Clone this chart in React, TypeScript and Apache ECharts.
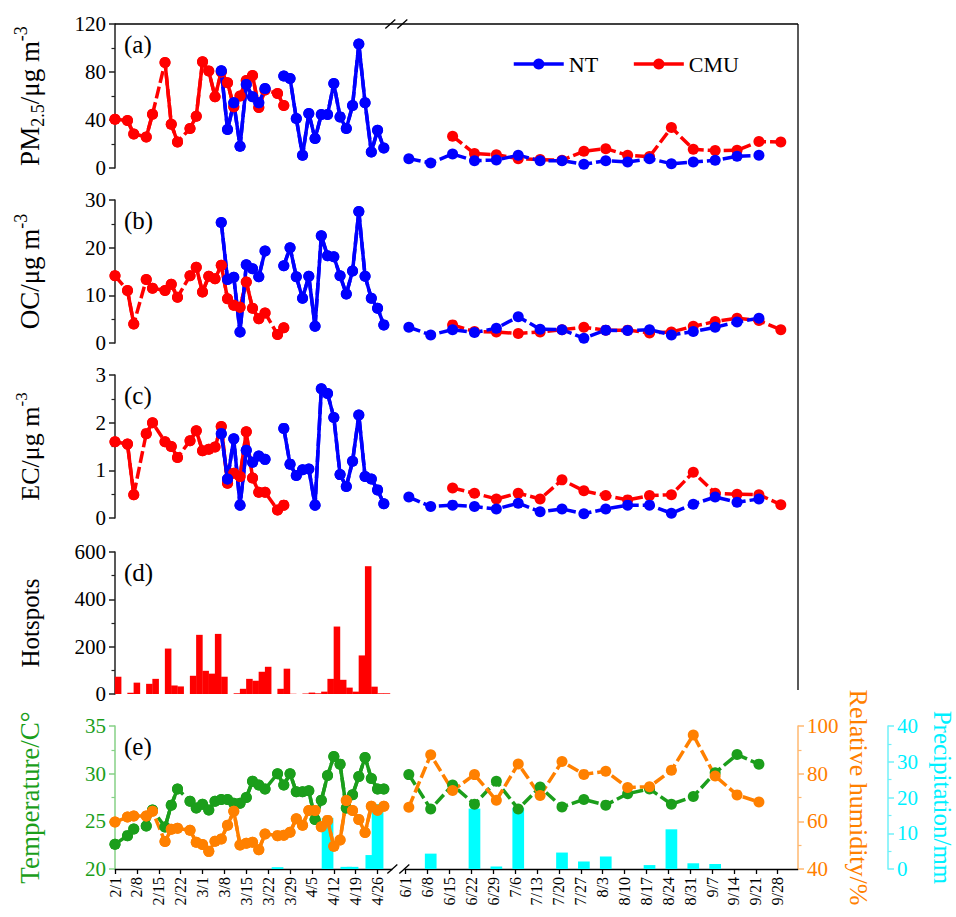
import React, { useEffect, useRef } from 'react';
import * as echarts from 'echarts';

const n = null;

// ---------- sampling dates ----------
const firstDates: string[] = [
  '2/1', '2/3', '2/5', '2/7', '2/9', '2/11', '2/13', '2/15', '2/17', '2/19', '2/21', '2/23', '2/25', '2/27',
  '3/1', '3/3', '3/5', '3/7', '3/9', '3/11', '3/13', '3/15', '3/17', '3/19', '3/21', '3/23', '3/25', '3/27', '3/29', '3/31',
  '4/2', '4/4', '4/6', '4/8', '4/10', '4/12', '4/14', '4/16', '4/18', '4/20', '4/22', '4/24', '4/26', '4/28',
];
const secondDates: string[] = [
  '6/2', '6/9', '6/16', '6/23', '6/30', '7/7', '7/14', '7/21', '7/28', '8/4', '8/11', '8/18', '8/25', '9/1', '9/8', '9/15', '9/22', '9/29',
];
const tickDates: string[] = [
  '2/1', '2/8', '2/15', '2/22', '3/1', '3/8', '3/15', '3/22', '3/29', '4/5', '4/12', '4/19', '4/26',
  '6/1', '6/8', '6/15', '6/22', '6/29', '7/6', '7/13', '7/20', '7/27', '8/3', '8/10', '8/17', '8/24', '8/31', '9/7', '9/14', '9/21', '9/28',
];

// ---------- (a) PM2.5 ----------
const cmuPM1 = [40.6, n, 39.5, 28.4, n, 25.9, 44.8, n, 88, 36.5, 21.7, n, 32.9, 43.2, 88.5, 80.8, 59.3, 80, 71, 51, 60, 73, 77, 50.5, 65, n, 62, 52,
  n, n, n, n, n, n, n, n, n, n, n, n, n, n, n, n];
const ntPM1 = [n, n, n, n, n, n, n, n, n, n, n, n, n, n, n, n, n,
  81, 32, 54.3, 18.1, 69.6, 59.3, 54.3, 66.3, n, n,
  76.6, 74.6, 41.2, 10.6, 45.4, 24.5, 44.5, 44.5, 70.4, 42.6, 32.9, 52, 103.3, 54.3, 13.4, 31.5, 16.7];
const ntPM2 = [7.8, 4.2, 11.7, 6.1, 6.7, 10.6, 6.1, 6.1, 3.1, 6.1, 5.0, 7.8, 3.6, 5.0, 6.4, 9.7, 10.6, n];
const cmuPM2 = [n, n, 26.5, 12, 11.1, 7.8, 7, 6.4, 13.9, 16.1, 10.6, 9.5, 33.7, 15.6, 14.5, 14.8, 22, 21.7];

// ---------- (b) OC ----------
const cmuOC1 = [14.1, n, 11, 4.0, n, 13.3, 11.5, n, 11, 12.3, 9.6, n, 14.1, 15.9, 10.7, 14, 13.5, 16.3, 9.3, 7.9, 7.5, 12.8, 7.3, 5.1, 6.3, n, 1.8, 3.2,
  n, n, n, n, n, n, n, n, n, n, n, n, n, n, n, n];
const ntOC1 = [n, n, n, n, n, n, n, n, n, n, n, n, n, n, n, n, n,
  25.3, 13.3, 13.8, 2.3, 16.4, 15.6, 13.9, 19.3, n, n,
  16.2, 20, 13.9, 9.4, 14, 3.5, 22.5, 18.3, 18.1, 14.1, 10.3, 15.1, 27.6, 14, 9.4, 7.3, 3.8];
const ntOC2 = [3.3, 1.7, 2.8, 2.2, 3.1, 5.5, 2.9, 2.8, 1.0, 2.7, 2.6, 2.8, 1.7, 2.4, 3.3, 4.4, 5.2, n];
const cmuOC2 = [n, n, 3.8, 2.4, 2.3, 2.0, 2.3, 2.8, 3.3, 2.7, 2.7, 2.1, 2.3, 3.5, 4.5, 5.2, 4.7, 2.8];

// ---------- (c) EC ----------
const cmuEC1 = [1.6, n, 1.55, 0.49, n, 1.77, 2.0, n, 1.6, 1.5, 1.27, n, 1.62, 1.83, 1.41, 1.44, 1.49, 1.92, 0.73, 0.94, 0.87, 1.81, 0.84, 0.54, 0.54, n, 0.17, 0.27,
  n, n, n, n, n, n, n, n, n, n, n, n, n, n, n, n];
const ntEC1 = [n, n, n, n, n, n, n, n, n, n, n, n, n, n, n, n, n,
  1.77, 0.82, 1.66, 0.27, 1.42, 1.17, 1.3, 1.23, n, n,
  1.88, 1.13, 0.89, 1.01, 1.03, 0.27, 2.71, 2.61, 2.11, 0.91, 0.66, 1.19, 2.16, 0.87, 0.82, 0.59, 0.3];
const ntEC2 = [0.44, 0.24, 0.27, 0.24, 0.19, 0.31, 0.13, 0.19, 0.09, 0.19, 0.27, 0.27, 0.10, 0.29, 0.44, 0.33, 0.40, n];
const cmuEC2 = [n, n, 0.63, 0.52, 0.40, 0.52, 0.40, 0.80, 0.57, 0.47, 0.38, 0.47, 0.49, 0.96, 0.52, 0.50, 0.49, 0.28];

// ---------- (d) Hotspots (2-day bins starting at each first-part date) ----------
const hotspots1 = [73, 0, 5, 48, 0, 43, 64, 0, 192, 36, 32, 0, 77, 250, 98, 86, 254, 73, 0, 3, 22, 64, 56, 94, 115, 0, 22, 107,
  1, 0, 2, 6, 3, 10, 64, 285, 60, 27, 10, 163, 540, 31, 3, 3];

// ---------- (e) meteorology ----------
const temp1 = [22.6, n, 23.5, 24.2, n, 24.5, 26.2, n, 24.4, 26.7, 28.4, n, 27.1, 26.4, 26.8, 26.2, 27.1, 27.3, 27.3, 26.9, 26.9, 27.5, 29.2, 28.8, 28.4, n, 30.0, 28.8,
  30.0, 28.1, 28.1, 28.2, 25.2, 27.2, 29.8, 31.8, 31.0, 26.4, 27.8, 29.7, 31.7, 29.5, 28.4, 28.4];
const temp2 = [29.9, 26.3, 28.8, 26.8, 29.2, 26.3, 28.6, 26.5, 27.3, 26.7, 27.9, 28.4, 26.8, 27.6, 30.1, 32.0, 31.0, n];
const rh1 = [59.7, n, 61.8, 62.2, n, 62.2, 64.2, n, 51.5, 56.7, 57.1, n, 56.3, 51.2, 50.3, 47.4, 51.6, 52.6, 58.4, 64.2, 50.1, 50.8, 51.2, 48.1, 54.7, n, 54, 54.2,
  55.4, 61.1, 58.4, 64.5, 64.5, 57.7, 60.4, 49.5, 52.2, 68.7, 64.5, 60.8, 55.3, 66.3, 64.7, 66.3];
const rh2 = [65.9, 87.9, 72.9, 79.6, 68.8, 84.1, 70.8, 85.1, 79.7, 81.0, 74.2, 74.5, 81.4, 96.2, 79.0, 71.1, 68.1, n];
const precip1 = [0, 0, 0, 0, 0, 0, 0, 0, 0, 0, 0, 0, 0, 0, 0, 0, 0, 0, 0, 0, 0, 0, 0, 0, 0, 0, 0.5, 0, 0, 0,
  0, 0, 0, 0, 14.3, 0, 0, 0.6, 0.6, 0, 0, 3.9, 18.2, 0];
const precip2 = [0, 4.3, 0, 16.9, 0.7, 17.1, 0, 4.6, 2.1, 3.5, 0, 1.1, 11.1, 1.6, 1.4, 0, 0, 0];

// ---------- axis mapping (broken time axis) ----------
const MONTH_START: Record<number, number> = { 2: 0, 3: 28, 4: 59, 5: 89, 6: 120, 7: 150, 8: 181, 9: 212 };
const BREAK_DAYS = 27;
function pos(md: string): number {
  const [m, d] = md.split('/').map(Number);
  const days = MONTH_START[m] + d - 1;
  return days > 100 ? days - BREAK_DAYS : days;
}
const firstPos = firstDates.map(pos);
const secondPos = secondDates.map(pos);
const tickPos = tickDates.map(pos);

// ---------- layout / style ----------
const FONT = 'Liberation Serif';
const X_MAX = 218.5;
const LEFT = 115;
const WIDTH = 683;
const GRIDS = [
  { top: 24, h: 144 },
  { top: 200, h: 143 },
  { top: 375, h: 143 },
  { top: 552, h: 142 },
  { top: 726, h: 143 },
];
const BLUE = '#0000ff';
const RED = '#ff0000';
const GREEN = '#1b9e1b';
const ORANGE = '#ff8000';
const CYAN = '#00f0ff';

function lineSeries(name: string, color: string, xi: number, yi: number, first: (number | null)[], second: (number | null)[]) {
  const solid = firstPos.map((x, i) => [x, first[i] == null ? '-' : first[i]]);
  const dashed: any[] = [];
  const addPart = (xs: number[], vals: (number | null)[], maxStep: number) => {
    let last = -1;
    vals.forEach((v, i) => {
      if (v == null) return;
      if (last >= 0 && i - last > maxStep) dashed.push([(xs[last] + xs[i]) / 2, '-']);
      dashed.push([xs[i], v]);
      last = i;
    });
  };
  addPart(firstPos, first, 2);
  if (dashed.length) dashed.push([(firstPos[firstPos.length - 1] + secondPos[0]) / 2, '-']);
  addPart(secondPos, second, 1);
  const common = {
    type: 'line', name, xAxisIndex: xi, yAxisIndex: yi, symbol: 'circle', symbolSize: 11, showSymbol: true,
    connectNulls: false, itemStyle: { color }, silent: true, animation: false,
  };
  return [
    { ...common, data: dashed, lineStyle: { color, width: 3.5, type: [12, 4] } },
    { ...common, data: solid, lineStyle: { color, width: 3.5, type: 'solid' } },
  ];
}

function nameStyle(color: string, size: number, lineHeight?: number) {
  const small = Math.round(size * 0.66);
  return {
    fontFamily: FONT, fontSize: size, color, lineHeight: lineHeight ?? size + 8,
    rich: {
      sub: { fontFamily: FONT, fontSize: small, lineHeight: small, verticalAlign: 'bottom', color },
      sup: { fontFamily: FONT, fontSize: small, lineHeight: small, verticalAlign: 'top', color },
    },
  };
}

function yAx(gi: number, min: number, max: number, interval: number, name: string, opt: any = {}) {
  const lineColor = opt.lineColor || '#222';
  const labelColor = opt.labelColor || '#000';
  return {
    type: 'value', gridIndex: gi, min, max, interval, name,
    position: opt.position || 'left', offset: opt.offset || 0,
    nameLocation: 'middle', nameGap: opt.nameGap ?? 68, nameRotate: opt.nameRotate,
    nameMoveOverlap: opt.nameMoveOverlap ?? true,
    nameTextStyle: nameStyle(opt.nameColor || '#000', opt.nameSize || 26, opt.nameLineHeight),
    axisLine: { show: true, lineStyle: { color: lineColor, width: 1.5 } },
    axisTick: { show: true, inside: false, length: 6, lineStyle: { color: lineColor, width: 1.5 } },
    minorTick: { show: true, splitNumber: 2, length: 3.5, lineStyle: { color: lineColor, width: 1.2 } },
    axisLabel: { fontFamily: FONT, fontSize: 21, color: labelColor, margin: 9 },
    splitLine: { show: false },
    minorSplitLine: { show: false },
  };
}

function labelFor(v: number): string {
  const idx = tickPos.findIndex((p) => Math.abs(p - v) < 0.01);
  return idx >= 0 ? tickDates[idx] : '';
}

export default function App() {
  const ref = useRef<HTMLDivElement>(null);
  useEffect(() => {
    if (!ref.current) return;
    const chart = echarts.init(ref.current, undefined, { renderer: 'svg' });
    const pxPerDay = WIDTH / X_MAX;
    const xPix = (v: number) => LEFT + v * pxPerDay;
    const rightX = LEFT + WIDTH;
    const breakX = xPix((firstPos[firstPos.length - 1] + secondPos[0]) / 2);
    const topY = GRIDS[0].top;
    const botY = GRIDS[4].top + GRIDS[4].h;

    const grid = GRIDS.map((g) => ({
      left: LEFT, width: WIDTH, top: g.top, height: g.h, containLabel: false, outerBoundsMode: 'none',
    }));
    const xAxis = GRIDS.map((g, i) => ({
      type: 'value', gridIndex: i, min: 0, max: X_MAX, show: i === 4,
      axisLine: { show: true, onZero: false, lineStyle: { color: '#000', width: 1.3 } },
      axisTick: { show: true, inside: false, length: 5, lineStyle: { color: '#000', width: 1.3 }, customValues: tickPos },
      axisLabel: {
        show: true, rotate: 90, margin: 8, fontSize: 16, fontFamily: FONT, color: '#000',
        customValues: tickPos, formatter: (v: number) => labelFor(v),
      },
      splitLine: { show: false },
    }));
    const yAxis = [
      yAx(0, 0, 120, 40, 'PM{sub|2.5}/μg m{sup|-3}', { nameSize: 27 }),
      yAx(1, 0, 30, 10, 'OC/μg m{sup|-3}', { nameSize: 27 }),
      yAx(2, 0, 3, 1, 'EC/μg m{sup|-3}', { nameSize: 26 }),
      yAx(3, 0, 600, 200, 'Hotspots', { nameSize: 25 }),
      yAx(4, 20, 35, 5, 'Temperature/C°', { nameSize: 27, lineColor: '#86d086', labelColor: GREEN, nameColor: GREEN }),
      yAx(4, 40, 100, 20, 'Relative humidity/%', {
        position: 'right', nameGap: 46, nameRotate: -90, nameMoveOverlap: false, nameLineHeight: 28,
        lineColor: '#ffb870', labelColor: ORANGE, nameColor: ORANGE,
      }),
      yAx(4, 0, 40, 10, 'Precipitation/mm', {
        position: 'right', offset: 90, nameGap: 42, nameSize: 25, nameLineHeight: 25, nameRotate: -90, nameMoveOverlap: false,
        lineColor: '#70f0f8', labelColor: CYAN, nameColor: CYAN,
      }),
    ];

    const series: any[] = [
      ...lineSeries('CMU', RED, 0, 0, cmuPM1, cmuPM2),
      ...lineSeries('NT', BLUE, 0, 0, ntPM1, ntPM2),
      ...lineSeries('CMU', RED, 1, 1, cmuOC1, cmuOC2),
      ...lineSeries('NT', BLUE, 1, 1, ntOC1, ntOC2),
      ...lineSeries('CMU', RED, 2, 2, cmuEC1, cmuEC2),
      ...lineSeries('NT', BLUE, 2, 2, ntEC1, ntEC2),
      {
        type: 'bar', name: 'Hotspots', xAxisIndex: 3, yAxisIndex: 3, barWidth: 2 * pxPerDay + 0.3,
        itemStyle: { color: RED }, silent: true,
        data: firstPos.map((x, i) => [x + 1, hotspots1[i]]),
      },
      {
        type: 'bar', name: 'Precipitation', xAxisIndex: 4, yAxisIndex: 6, barWidth: 11.7,
        itemStyle: { color: '#00ffff' }, silent: true,
        data: [...firstPos.map((x, i) => [x, precip1[i]]), ...secondPos.map((x, i) => [x, precip2[i]])],
      },
      ...lineSeries('Temperature', GREEN, 4, 4, temp1, temp2),
      ...lineSeries('RH', ORANGE, 4, 5, rh1, rh2),
    ];

    const line = (x1: number, y1: number, x2: number, y2: number) => ({
      type: 'line', z: 100, silent: true, shape: { x1, y1, x2, y2 }, style: { stroke: '#000', lineWidth: 1.3 },
    });
    const slashes = (cx: number, cy: number) => [
      { type: 'rect', z: 99, silent: true, shape: { x: cx - 6, y: cy - 3, width: 12, height: 6 }, style: { fill: '#fff' } },
      line(cx - 11, cy + 4.5, cx - 1, cy - 4.5),
      line(cx + 1, cy + 4.5, cx + 11, cy - 4.5),
    ];
    const labels = ['(a)', '(b)', '(c)', '(d)', '(e)'].map((t, i) => ({
      type: 'text', z: 100, silent: true, x: 124, y: GRIDS[i].top + 20,
      style: { text: t, fontSize: 25, fontFamily: FONT, fill: '#000', verticalAlign: 'middle', align: 'left' },
    }));

    chart.setOption({
      animation: false,
      backgroundColor: '#fff',
      grid, xAxis, yAxis, series,
      legend: {
        data: ['NT', 'CMU'], left: 512, top: 53, itemWidth: 50, itemHeight: 14, itemGap: 34, padding: 0,
        textStyle: { fontFamily: FONT, fontSize: 22, color: '#000' },
        lineStyle: { type: 'solid', width: 3.5 }, selectedMode: false,
      },
      graphic: [
        line(LEFT, topY, rightX, topY),
        line(rightX, topY, rightX, GRIDS[3].top + GRIDS[3].h - 4),
        ...slashes(breakX, topY),
        ...slashes(breakX + 2, botY),
        ...labels,
      ],
    });
    return () => chart.dispose();
  }, []);
  return <div ref={ref} style={{ position: 'fixed', left: 0, top: 0, width: 956, height: 917 }} />;
}
